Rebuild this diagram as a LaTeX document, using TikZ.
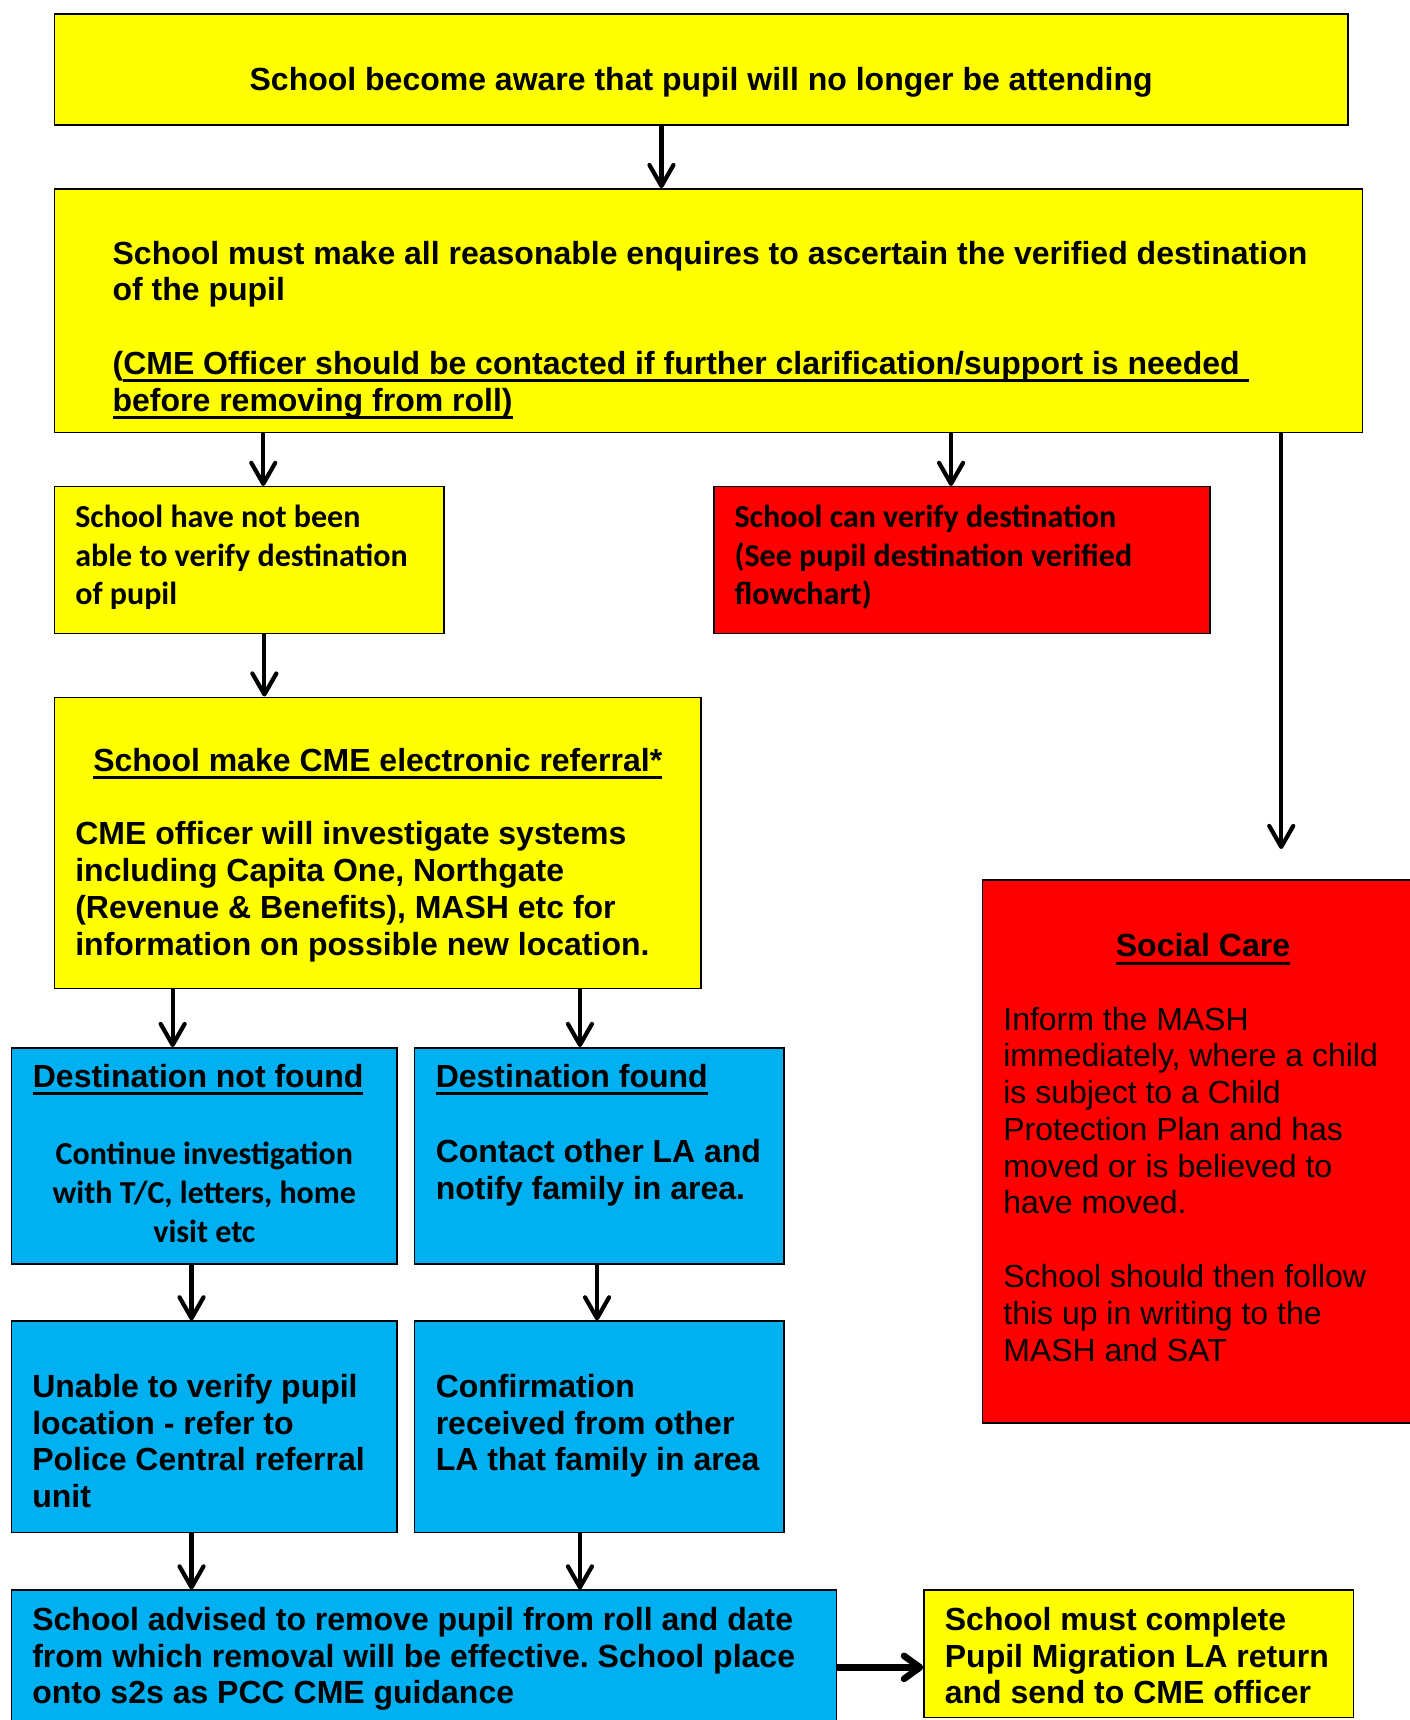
\documentclass[tikz,border=0pt]{standalone}
\usepackage{fontspec}
\setmainfont{Liberation Sans}
\newfontfamily\calib{Carlito}
\usetikzlibrary{arrows.meta}
\frenchspacing
\newlength\dpx
\setlength\dpx{0.5486pt}
\newsavebox\ulbox
\newcommand{\uln}[1]{\sbox\ulbox{#1}\rlap{\rule[-3.8pt]{\wd\ulbox}{1.5pt}}\usebox\ulbox}
\definecolor{cyel}{HTML}{FFFF00}
\definecolor{cred}{HTML}{FF0000}
\definecolor{cblu}{HTML}{00B0F0}
\newcommand{\ar}{\fontsize{16}{18.4}\selectfont\bfseries}
\newcommand{\arm}{\fontsize{16}{18.4}\selectfont\mdseries}
\newcommand{\ca}{\calib\fontsize{16}{19.4}\selectfont\bfseries}
% #1 width, #2 height, #3 left margin, #4 first baseline from top, #5 text
\newcommand{\bx}[5]{\begin{minipage}[c][#2\dpx][t]{#1\dpx}\leftskip=#3\dpx\relax\rightskip=0pt plus 1fil\relax\parfillskip=0pt plus 1fil\relax\hyphenpenalty=10000\relax\vspace*{\dimexpr#4\dpx-13pt\relax}\rule{0pt}{13pt}#5\end{minipage}}
\newcommand{\pgap}[1]{\par\vspace{\dimexpr#1\dpx-\baselineskip\relax}}
\tikzset{
  box/.style={draw=black, line width=0.75pt, inner sep=0pt, anchor=north west},
  ybox/.style={box, fill=cyel},
  rbox/.style={box, fill=cred},
  bbox/.style={box, fill=cblu},
  arr/.style={line width=2.1pt, -{Straight Barb[length=10.5pt, width=12pt, round]}},
  arrh/.style={line width=3.3pt, -{Straight Barb[length=8pt, width=11.5pt, round]}},
}
\begin{document}
\begin{tikzpicture}[x=\dpx, y=-\dpx]
\useasboundingbox (0,0) rectangle (1285,1568);
\fill[white] (0,0) rectangle (1285,1568);

\node[ybox] (b1) at (49,12.2) {\bx{1179}{101}{0}{70}{\ar\centering School become aware that pupil will no longer be attending}};

\node[ybox] (b2) at (49,171.5) {\bx{1192.6}{222}{53}{68.5}{\ar School must make all reasonable enquires to ascertain the verified destination\\ of the pupil\\[18.4pt] (\uln{CME Officer should be contacted if further clarification/support is needed\ }\\ \uln{before removing from roll)}}};

\node[ybox] (b3) at (49,443) {\bx{355}{134}{19}{37}{\ca School have not been\\ able to verify destination\\ of pupil}};

\node[rbox] (b4) at (650,443) {\bx{452.5}{134}{19}{37}{\ca School can verify destination\\ (See pupil destination verified\\ flowchart)}};

\node[ybox] (b5) at (49,635) {\bx{589.4}{265.5}{19}{67.5}{\ar{\centering\uln{School make CME electronic referral*}\par}\pgap{67}CME officer will investigate systems\\ including Capita One, Northgate\\ (Revenue \& Benefits), MASH etc for\\ information on possible new location.}};

\node[rbox] (b12) at (895,801.4) {\bx{402}{495.3}{19}{70.3}{\ar{\centering\uln{Social Care}\par}\pgap{66.6}\arm Inform the MASH\\ immediately, where a child\\ is subject to a Child\\ Protection Plan and has\\ moved or is believed to\\ have moved.\\[18.4pt] School should then follow\\ this up in writing to the\\ MASH and SAT}};

\node[bbox] (b6) at (9.8,954.5) {\bx{351.6}{197}{19.5}{36.5}{\ar\uln{Destination not found}\pgap{68}{\ca\centering Continue investigation\\ with T/C, letters, home\\ visit etc\par}}};

\node[bbox] (b7) at (377,954.5) {\bx{336.8}{197}{19.6}{36.5}{\ar\uln{Destination found}\pgap{68}Contact other LA and\\ notify family in area.}};

\node[bbox] (b8) at (9.8,1203.7) {\bx{351.6}{192.6}{19}{69.5}{\ar Unable to verify pupil\\ location - refer to\\ Police Central referral\\ unit}};

\node[bbox] (b9) at (377,1203.7) {\bx{336.8}{192.6}{19.6}{69.5}{\ar Confirmation\\ received from other\\ LA that family in area}};

\node[bbox] (b10) at (9.8,1449) {\bx{752.2}{200}{19}{36.5}{\ar School advised to remove pupil from roll and date\\ from which removal will be effective. School place\\ onto s2s as PCC CME guidance}};

\node[ybox] (b11) at (841.7,1449) {\bx{391.7}{116}{19}{36.5}{\ar School must complete\\ Pupil Migration LA return\\ and send to CME officer}};

\coordinate (scend) at (1168,774);

\draw[arr] (603,0 |- b1.south) -- (603,0 |- b2.north);
\draw[arr] (240,0 |- b2.south) -- (240,0 |- b3.north);
\draw[arr] (867,0 |- b2.south) -- (867,0 |- b4.north);
\draw[arr] (1168,0 |- b2.south) -- (scend);
\draw[arr] (241,0 |- b3.south) -- (241,0 |- b5.north);
\draw[arr] (157.4,0 |- b5.south) -- (157.4,0 |- b6.north);
\draw[arr] (528.7,0 |- b5.south) -- (528.7,0 |- b7.north);
\draw[arr] (174.6,0 |- b6.south) -- (174.6,0 |- b8.north);
\draw[arr] (544.3,0 |- b7.south) -- (544.3,0 |- b9.north);
\draw[arr] (174.6,0 |- b8.south) -- (174.6,0 |- b10.north);
\draw[arr] (528.7,0 |- b9.south) -- (528.7,0 |- b10.north);
\draw[arrh] (b10.east |- 0,1520) -- (b11.west |- 0,1520);
\end{tikzpicture}
\end{document}
